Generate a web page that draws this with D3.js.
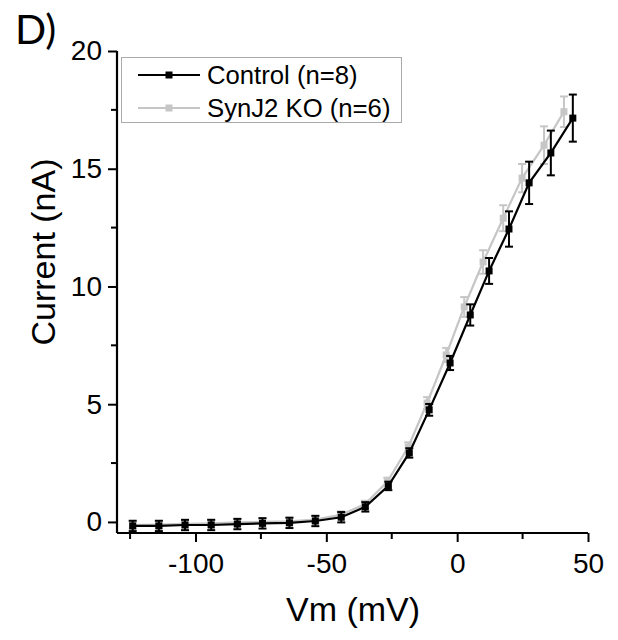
<!DOCTYPE html>
<html>
<head>
<meta charset="utf-8">
<script src="https://cdn.jsdelivr.net/npm/d3@7"></script>
<style>
    body { margin: 0; background: #fff; }
    text { font-family: "Liberation Sans", Arial, sans-serif; }
</style>
</head>
<body>
<script>
// Control (n=8)
const controlV = [-124, -114, -104, -94, -84, -74.4, -64.1, -54.2, -44.3, -35.1, -26.3, -18.3, -10.7, -2.7, 5.0, 12.2, 19.8, 27.5, 35.8, 44.2];
const controlI = [-0.17, -0.17, -0.13, -0.13, -0.09, -0.06, -0.04, 0.04, 0.2, 0.64, 1.53, 2.93, 4.76, 6.75, 8.79, 10.66, 12.44, 14.4, 15.67, 17.15];
const controlErr = [0.22, 0.22, 0.22, 0.22, 0.22, 0.22, 0.22, 0.22, 0.22, 0.2, 0.18, 0.2, 0.25, 0.3, 0.45, 0.55, 0.75, 0.9, 0.95, 1.0];
// SynJ2 KO (n=6)
const koV = [-124, -114, -104, -94, -84, -74.4, -64.1, -54.2, -44.5, -35.3, -26.7, -18.7, -11.5, -4.2, 2.7, 9.9, 17.6, 24.8, 33.2, 40.8];
const koI = [-0.13, -0.11, -0.08, -0.06, -0.02, 0.0, 0.03, 0.1, 0.3, 0.75, 1.7, 3.18, 5.05, 7.09, 9.13, 11.04, 12.9, 14.6, 16.0, 17.42];
const koErr = [0.15, 0.15, 0.15, 0.15, 0.15, 0.15, 0.15, 0.15, 0.15, 0.15, 0.18, 0.2, 0.25, 0.3, 0.42, 0.5, 0.55, 0.6, 0.8, 0.65];

const xTicks = [-100, -50, 0, 50];
const yTicks = [0, 5, 10, 15, 20];

const W = 618, H = 640;
const x = d3.scaleLinear().domain([-130, 50]).range([117, 588]);
const y = d3.scaleLinear().domain([-0.47, 20]).range([533, 51]);

const svg = d3.select("body").append("svg")
    .attr("width", W)
    .attr("height", H);

function series(V, I, E) {
    return V.map((v, i) => ({v: v, i: I[i], e: E[i]}));
}

const groups = [
    {name: "SynJ2 KO (n=6)", color: "#c6c6c6", data: series(koV, koI, koErr)},
    {name: "Control (n=8)", color: "#000", data: series(controlV, controlI, controlErr)}
];

const line = d3.line().x(d => x(d.v)).y(d => y(d.i));

groups.forEach(g => {
    const gg = svg.append("g");
    gg.append("path")
        .datum(g.data)
        .attr("d", line)
        .attr("fill", "none")
        .attr("stroke", g.color)
        .attr("stroke-width", 2.2);

    const eb = gg.selectAll(".eb").data(g.data).enter().append("g")
        .attr("stroke", g.color)
        .attr("stroke-width", 2);
    eb.append("line")
        .attr("x1", d => x(d.v)).attr("x2", d => x(d.v))
        .attr("y1", d => y(d.i + d.e)).attr("y2", d => y(d.i - d.e));
    eb.append("line")
        .attr("x1", d => x(d.v) - 4).attr("x2", d => x(d.v) + 4)
        .attr("y1", d => y(d.i + d.e)).attr("y2", d => y(d.i + d.e));
    eb.append("line")
        .attr("x1", d => x(d.v) - 4).attr("x2", d => x(d.v) + 4)
        .attr("y1", d => y(d.i - d.e)).attr("y2", d => y(d.i - d.e));

    gg.selectAll("rect").data(g.data).enter().append("rect")
        .attr("x", d => x(d.v) - 3.5)
        .attr("y", d => y(d.i) - 3.5)
        .attr("width", 7)
        .attr("height", 7)
        .attr("fill", g.color);
});

// axes
const fmt = d => String(d);
const xAxis = svg.append("g")
    .attr("transform", "translate(0,533)")
    .call(d3.axisBottom(x).tickValues(xTicks).tickFormat(fmt).tickSize(9).tickSizeOuter(0).tickPadding(9));
xAxis.append("g").selectAll("line").data([-125, -75, -25, 25]).enter().append("line")
    .attr("x1", d => x(d)).attr("x2", d => x(d))
    .attr("y1", 0).attr("y2", 6)
    .attr("stroke", "#000").attr("stroke-width", 2);

const yAxis = svg.append("g")
    .attr("transform", "translate(117,0)")
    .call(d3.axisLeft(y).tickValues(yTicks).tickFormat(fmt).tickSize(9).tickSizeOuter(0).tickPadding(6));
yAxis.append("g").selectAll("line").data([2.5, 7.5, 12.5, 17.5]).enter().append("line")
    .attr("x1", 0).attr("x2", -6)
    .attr("y1", d => y(d)).attr("y2", d => y(d))
    .attr("stroke", "#000").attr("stroke-width", 2);

[xAxis, yAxis].forEach(a => {
    a.select(".domain").attr("stroke-width", 2.2);
    a.selectAll(".tick line").attr("stroke-width", 2);
    a.selectAll("text")
        .style("font-family", "'Liberation Sans', Arial, sans-serif")
        .style("font-size", "28px")
        .attr("fill", "#000");
});
xAxis.selectAll(".tick text").attr("dy", "0.8em");
xAxis.select(".domain").attr("d", "M" + x(-130) + ",0H" + x(50));
yAxis.select(".domain").attr("d", "M0," + y(20) + "V" + y(-0.47));

svg.append("text")
    .attr("x", 353)
    .attr("y", 621)
    .attr("text-anchor", "middle")
    .style("font-size", "34px")
    .text("Vm (mV)");

svg.append("text")
    .attr("transform", "translate(55,252) rotate(-90)")
    .attr("text-anchor", "middle")
    .style("font-size", "34px")
    .text("Current (nA)");

svg.append("text")
    .attr("x", 15)
    .attr("y", 44)
    .style("font-family", "Lato, 'Open Sans', sans-serif")
    .style("font-size", "41px")
    .text("D)");

// legend
const legend = svg.append("g");
legend.append("rect")
    .attr("x", 121.5).attr("y", 57.5)
    .attr("width", 280).attr("height", 65)
    .attr("fill", "#fff")
    .attr("stroke", "#aaa")
    .attr("stroke-width", 1);
const items = [groups[1], groups[0]];
const li = legend.selectAll(".li").data(items).enter().append("g")
    .attr("transform", (d, i) => "translate(0," + (75 + i * 33) + ")");
li.append("line")
    .attr("x1", 138).attr("x2", 200)
    .attr("y1", 0).attr("y2", 0)
    .attr("stroke", d => d.color)
    .attr("stroke-width", 2.2);
li.append("rect")
    .attr("x", 165.5).attr("y", -3.5)
    .attr("width", 7).attr("height", 7)
    .attr("fill", d => d.color);
li.append("text")
    .attr("x", 207)
    .attr("y", 0)
    .attr("dy", "0.36em")
    .style("font-size", "25.7px")
    .text(d => d.name);
</script>
</body>
</html>
